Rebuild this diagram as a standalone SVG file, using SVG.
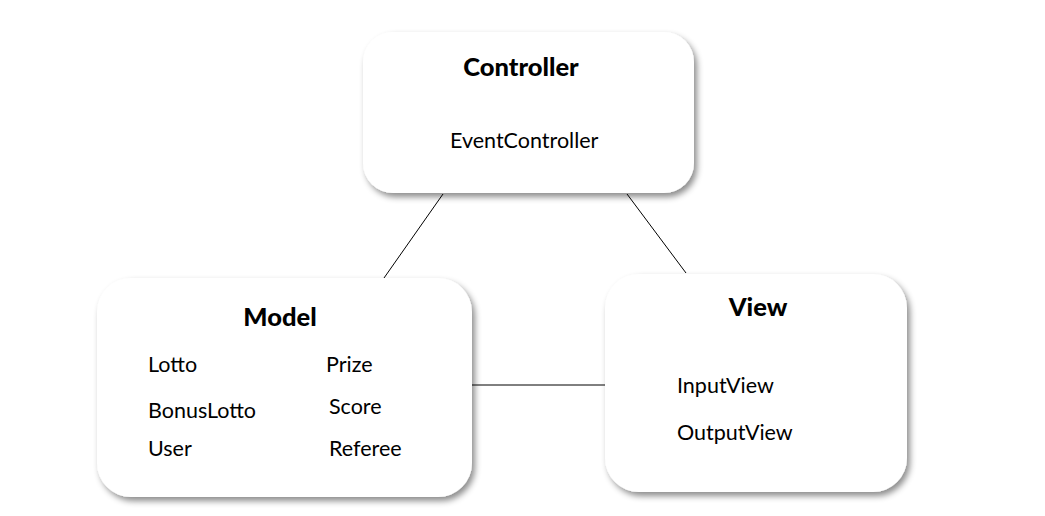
<svg xmlns="http://www.w3.org/2000/svg" width="1045" height="516" viewBox="0 0 1045 516">
<defs>
<filter id="sh" x="-10%" y="-10%" width="125%" height="130%">
<feDropShadow dx="3" dy="4" stdDeviation="3" flood-color="#000" flood-opacity="0.45"/>
</filter>
</defs>
<style>
.box{fill:#fff;filter:url(#sh);}
.title{font-family:Lato,"Liberation Sans",sans-serif;font-weight:900;font-size:25.5px;fill:#000;text-anchor:middle;}
.item{font-family:Lato,"Liberation Sans",sans-serif;font-size:21.5px;fill:#000;}
.conn{stroke:#000;stroke-width:1;fill:none;}
</style>
<rect width="1045" height="516" fill="#fff"/>
<g id="connectors">
<line class="conn" x1="443" y1="194" x2="384" y2="278"/>
<line class="conn" x1="627" y1="194" x2="686" y2="273"/>
<line class="conn" x1="472" y1="385" x2="605" y2="385"/>
</g>
<g id="controller">
<rect class="box" x="363" y="32" width="331" height="161" rx="30"/>
<text class="title" x="521" y="76">Controller</text>
<text class="item" x="450" y="148">EventController</text>
</g>
<g id="model">
<rect class="box" x="97" y="278" width="375" height="219" rx="34"/>
<text class="title" x="280" y="326">Model</text>
<text class="item" x="148" y="372">Lotto</text>
<text class="item" x="148" y="418">BonusLotto</text>
<text class="item" x="148" y="456">User</text>
<text class="item" x="326" y="372">Prize</text>
<text class="item" x="329" y="414">Score</text>
<text class="item" x="329" y="456">Referee</text>
</g>
<g id="view">
<rect class="box" x="605" y="274" width="302" height="218" rx="34"/>
<text class="title" x="758" y="316">View</text>
<text class="item" x="677" y="393">InputView</text>
<text class="item" x="677" y="440">OutputView</text>
</g>
</svg>
